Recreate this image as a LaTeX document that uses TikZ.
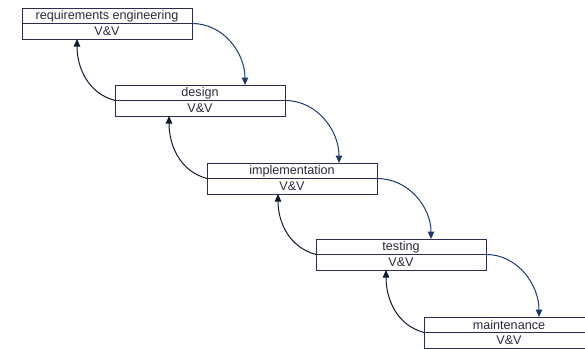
\documentclass[tikz,border=0pt]{standalone}
\usepackage{fontspec}
\setmainfont{Liberation Sans}
\usetikzlibrary{arrows.meta,calc}
\definecolor{boxcol}{HTML}{2B2D4F}
\definecolor{fwdcol}{HTML}{1C3A70}
\definecolor{backcol}{HTML}{0E1B30}
\definecolor{txtcol}{HTML}{2A2A3A}
\tikzset{
  phase/.style={draw=boxcol, line width=0.9pt, minimum width=170pt, minimum height=31pt,
    anchor=north west, inner sep=0pt, outer sep=0pt},
  lbl/.style={font=\fontsize{12.6pt}{14pt}\selectfont, text=txtcol, inner sep=0pt},
  fwd/.style={draw=fwdcol, line width=1pt, -{Triangle[length=7.5pt,width=6.5pt]}},
  back/.style={draw=backcol, line width=1pt, -{Triangle[length=7.5pt,width=6.5pt]}}
}
\begin{document}
\begin{tikzpicture}[x=1pt,y=-1pt]
\useasboundingbox (0,0) rectangle (585,348);
\clip (0,0) rectangle (585,348);
\foreach \n/\x/\y/\t in {r/22/8/requirements engineering, d/115/85/design, i/207/163/implementation, t/316/239/testing, m/424/317/maintenance}{
  \node[phase] (\n) at (\x,\y) {};
  \draw[boxcol, line width=0.9pt] (\n.west) -- (\n.east);
  \node[lbl] (\n-top) at ($(\n.north)!0.5!(\n.center)$) {\t};
  \node[lbl] (\n-vv) at ($(\n.south)!0.5!(\n.center)$) {V\&V};
}
% forward arrows
\draw[fwd] (r.east) to[out=0,in=90] ($(d.north west)+(130,0)$);
\draw[fwd] (d.east) to[out=0,in=90] ($(i.north west)+(132,0)$);
\draw[fwd] (i.east) to[out=0,in=90] ($(t.north west)+(115,0)$);
\draw[fwd] (t.east) to[out=0,in=90] ($(m.north west)+(115,0)$);
% return arrows
\draw[back] (d.west) to[out=165,in=-90] ($(r.south west)+(55,0)$);
\draw[back] (i.west) to[out=165,in=-90] ($(d.south west)+(54,0)$);
\draw[back] (t.west) to[out=165,in=-90] ($(i.south west)+(71,0)$);
\draw[back] (m.west) to[out=165,in=-90] ($(t.south west)+(70,0)$);
\end{tikzpicture}
\end{document}
